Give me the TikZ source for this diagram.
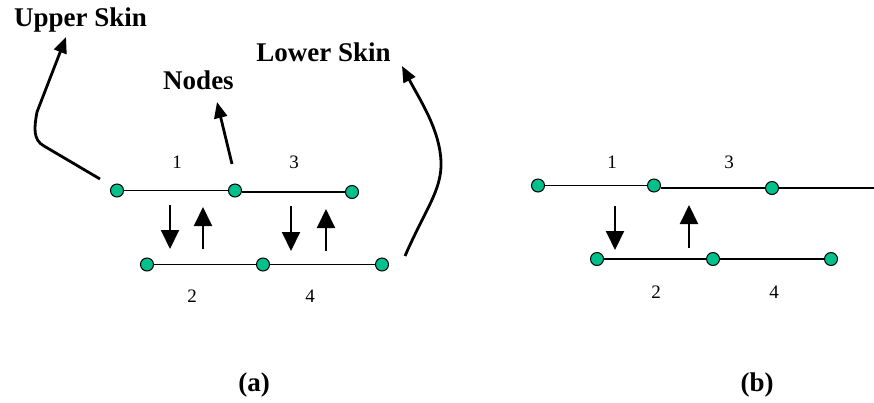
\documentclass[tikz,border=0pt]{standalone}
\usepackage{fontspec}
\setmainfont{Liberation Serif}
\usetikzlibrary{arrows.meta}
\definecolor{dotgreen}{RGB}{0,192,140}
\tikzset{
  dot/.style={circle,draw=black,line width=1pt,fill=dotgreen,minimum size=13pt,inner sep=0pt},
  seg/.style={line width=1.9pt},
  flow/.style={line width=2pt,-{Triangle[length=19pt,width=18pt]}},
  pointer/.style={line width=2.8pt,-{Triangle[length=16pt,width=13pt]}},
  big/.style={font=\fontsize{27}{30}\selectfont\bfseries,inner sep=0pt},
  num/.style={font=\fontsize{19}{21}\selectfont,inner sep=0pt}
}
\begin{document}
\begin{tikzpicture}[x=1pt,y=-1pt]
\useasboundingbox (0,0) rectangle (874,402);
% panel (a)
\node[dot] (a1) at (117,190.5) {};
\node[dot] (a2) at (235,190.5) {};
\node[dot] (a3) at (352,192) {};
\node[dot] (a4) at (147,264.5) {};
\node[dot] (a5) at (263,264.5) {};
\node[dot] (a6) at (382,264.5) {};
\draw[seg] (a1) -- (a2);
\draw[seg] (a2.east |- 0,192) -- (a3);
\draw[seg] (a4) -- (a5) -- (a6);
\node[num] (l1) at (177,162) {1};
\node[num] (l3) at (294,162) {3};
\node[num] (l2) at (192,296) {2};
\node[num] (l4) at (310,296) {4};
\coordinate (d1s) at (170,205); \coordinate (d1e) at (170,249);
\coordinate (u1s) at (203,249); \coordinate (u1e) at (203,207);
\coordinate (d2s) at (291,206); \coordinate (d2e) at (291,251);
\coordinate (u2s) at (326,251); \coordinate (u2e) at (326,209);
\draw[flow] (d1s) -- (d1e);
\draw[flow] (u1s) -- (u1e);
\draw[flow] (d2s) -- (d2e);
\draw[flow] (u2s) -- (u2e);
\node[big] (upper) at (80.5,20) {Upper Skin};
\node[big] (nodes) at (198.5,80) {Nodes};
\node[big] (lower) at (323.5,52) {Lower Skin};
\coordinate (us) at (100,179);
\coordinate (ut) at (66,37);
\draw[pointer,line join=round] (us) -- (44,146) .. controls (33,140) and (34,128) .. (37,112) -- (ut);
\coordinate (ns) at (232,164);
\coordinate (nt) at (217,102);
\draw[pointer] (ns) -- (nt);
\coordinate (ls) at (405,256);
\coordinate (lt) at (402,66);
\draw[pointer] (ls) .. controls (425,210) and (442,190) .. (441,162) .. controls (440,130) and (420,100) .. (lt);
\node[big] (capa) at (254,385) {(a)};
% panel (b)
\node[dot] (b1) at (538,185.5) {};
\node[dot] (b2) at (654,185.5) {};
\node[dot] (b3) at (772,188) {};
\coordinate (bend) at (874,188);
\node[dot] (b4) at (597,259) {};
\node[dot] (b5) at (713,259) {};
\node[dot] (b6) at (831,259) {};
\draw[seg] (b1) -- (b2);
\draw[seg] (b2.east |- 0,188) -- (b3) -- (bend);
\draw[seg] (b4) -- (b5) -- (b6);
\node[num] (m1) at (612,162) {1};
\node[num] (m3) at (729,162) {3};
\node[num] (m2) at (656,292) {2};
\node[num] (m4) at (774,292) {4};
\coordinate (e1s) at (615,206); \coordinate (e1e) at (615,250);
\coordinate (v1s) at (689,248); \coordinate (v1e) at (689,205);
\draw[flow] (e1s) -- (e1e);
\draw[flow] (v1s) -- (v1e);
\node[big] (capb) at (757,385) {(b)};
\end{tikzpicture}
\end{document}
